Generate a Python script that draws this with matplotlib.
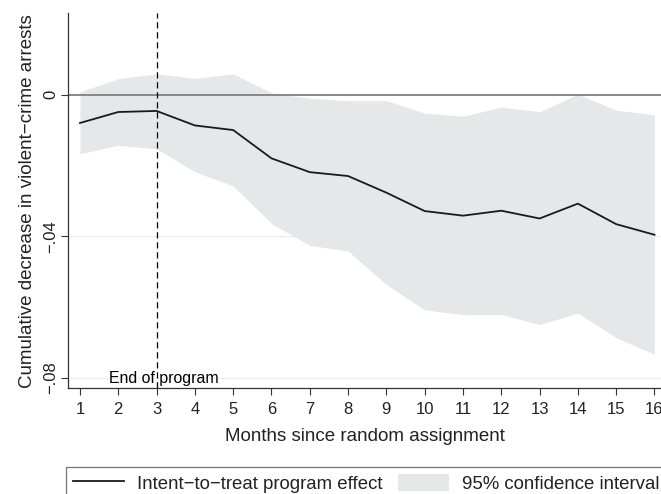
import matplotlib
matplotlib.use("Agg")
import matplotlib.pyplot as plt
from matplotlib.patches import Patch
from matplotlib.lines import Line2D

plt.rcParams['font.family'] = ['Liberation Sans', 'DejaVu Sans']

months = list(range(1, 17))
effect = [-0.0080, -0.0049, -0.0046, -0.0087, -0.0100, -0.0180, -0.0219, -0.0230,
          -0.0277, -0.0329, -0.0342, -0.0328, -0.0350, -0.0308, -0.0366, -0.0396]
upper = [0.0008, 0.0045, 0.0059, 0.0046, 0.0059, 0.0005, -0.0010, -0.0017,
         -0.0017, -0.0052, -0.0061, -0.0035, -0.0048, 0.0001, -0.0044, -0.0057]
lower = [-0.0167, -0.0143, -0.0153, -0.0218, -0.0258, -0.0364, -0.0426, -0.0442,
         -0.0537, -0.0608, -0.0622, -0.0621, -0.0650, -0.0617, -0.0687, -0.0734]
yticks = [0, -0.04, -0.08]
yticklabels = ['0', '\u2212.04', '\u2212.08']
program_end = 3

fig = plt.figure(figsize=(6.61, 4.94), dpi=100)
ax = fig.add_axes([68.3/661, 1 - 388.3/494, 1 - 68.3/661, (388.3 - 13.3)/494])

fill_color = '#e6e7e8'
for y in [-0.04, -0.08]:
    ax.axhline(y, color='#eeeeee', lw=1.0, zorder=0)
ax.fill_between(months, lower, upper, color=fill_color, lw=0, zorder=1)
ax.axhline(0, color='#7f7f7f', lw=1.3, zorder=2)
ax.plot(months, effect, color='#1a1a1a', lw=1.3, zorder=3)
ax.axvline(program_end, color='black', lw=0.9, dashes=(5, 3), zorder=4)
ax.text(1.757, -0.0801, 'End of program', fontsize=11.4, va='center', ha='left', zorder=5)

ax.set_xlim(0.695, 16.17)
ax.set_ylim(-0.0830, 0.0230)
ax.set_xticks(months)
ax.set_xticklabels([str(m) for m in months])
ax.set_yticks(yticks)
ax.set_yticklabels(yticklabels, rotation=90, va='center')
ax.tick_params(axis='both', direction='out', length=5, width=0.8, colors='#333333',
               labelsize=12, labelcolor='#222222')
ax.tick_params(axis='x', pad=5)
ax.tick_params(axis='y', pad=2.5)
for s in ['top', 'right']:
    ax.spines[s].set_visible(False)
for s in ['left', 'bottom']:
    ax.spines[s].set_color('#333333')
    ax.spines[s].set_linewidth(0.9)

ax.set_xlabel('Months since random assignment', fontsize=13.5, color='#222222', labelpad=8)
ax.set_ylabel('Cumulative decrease in violent\u2212crime arrests', fontsize=13.5,
              color='#222222', labelpad=5)

handles = [Line2D([], [], color='#1a1a1a', lw=1.3),
           Patch(facecolor=fill_color, edgecolor='none')]
labels = ['Intent\u2212to\u2212treat program effect', '95% confidence interval']
leg = fig.legend(handles, labels, loc='upper left', bbox_to_anchor=(66/661, 1 - 467.3/494),
                 ncol=2, fontsize=13.4, frameon=True, fancybox=False, borderaxespad=0,
                 handlelength=2.75, handleheight=1.08, handletextpad=0.7,
                 columnspacing=0.85, borderpad=0.35)
leg.get_frame().set_edgecolor('#555555')
leg.get_frame().set_linewidth(0.9)
for t in leg.get_texts():
    t.set_color('#222222')

fig.savefig('out.png', dpi=100)
